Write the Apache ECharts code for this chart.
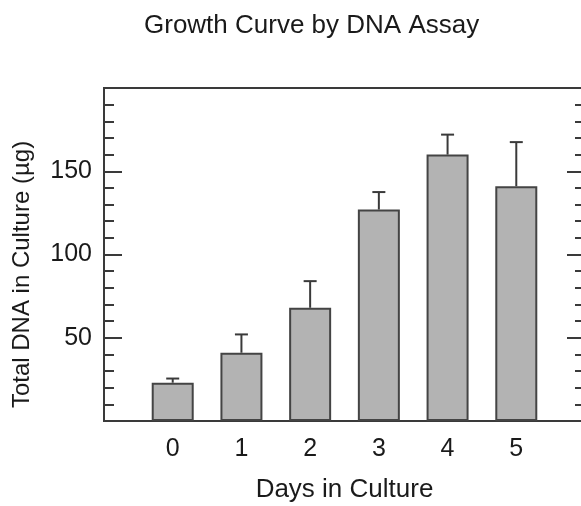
<!DOCTYPE html>
<html>
<head>
<meta charset="utf-8">
<script src="https://cdn.jsdelivr.net/npm/echarts@6/dist/echarts.min.js"></script>
<style>
  html, body { margin: 0; padding: 0; background: #fff; }
  #chart { width: 581px; height: 506px; }
</style>
</head>
<body>
<div id="chart"></div>
<script>
// data
const days = [0, 1, 2, 3, 4, 5];
const dnaMean = [23, 41, 68, 127, 160, 141];
const dnaErr = [2.5, 11, 16, 10.5, 12, 26.5];
const yTicks = [50, 100, 150];

const font = "'Liberation Sans', Arial, Helvetica, sans-serif";
const ink = "#3a3a3a";

const chart = echarts.init(document.getElementById("chart"));

const barData = days.map((d, i) => [d, dnaMean[i]]);
const errData = days.map((d, i) => [d, dnaMean[i], dnaMean[i] + dnaErr[i]]);

// y axis shared bits (left and right copies)
const yBase = {
  type: "value",
  min: 0,
  max: 200,
  interval: 50,
  splitLine: { show: false },
  axisLine: { show: true, onZero: false, lineStyle: { color: ink, width: 2 } },
  axisTick: { show: true, inside: true, length: 18, lineStyle: { color: ink, width: 2 } },
  minorTick: { show: true, splitNumber: 5, length: 10, lineStyle: { color: ink, width: 2 } },
};

const option = {
  animation: false,
  backgroundColor: "#fff",
  title: {
    text: "Growth Curve by DNA Assay",
    left: 139,
    top: 8,
    textStyle: { fontFamily: font, fontSize: 26, fontWeight: "normal", color: "#1a1a1a" },
  },
  grid: {
    left: 104,
    right: -4,
    top: 88,
    bottom: 85,
    show: true,
    borderColor: ink,
    borderWidth: 2,
    outerBoundsMode: "none",
  },
  xAxis: {
    type: "value",
    min: -1,
    max: 6,
    interval: 1,
    name: "Days in Culture",
    nameLocation: "middle",
    nameGap: 56,
    nameTextStyle: { fontFamily: font, fontSize: 26, color: "#1a1a1a" },
    splitLine: { show: false },
    axisLine: { show: true, onZero: false, lineStyle: { color: ink, width: 2 } },
    axisTick: { show: false },
    axisLabel: {
      margin: 16,
      fontFamily: font,
      fontSize: 25,
      color: "#1a1a1a",
      formatter: (v) => (days.indexOf(v) >= 0 ? String(v) : ""),
    },
  },
  yAxis: [
    Object.assign({}, yBase, {
      position: "left",
      name: "Total DNA in Culture (\u00b5g)",
      nameLocation: "middle",
      nameGap: 70,
      nameTextStyle: { fontFamily: font, fontSize: 24, color: "#1a1a1a", padding: [0, 40, 0, 0] },
      axisLabel: {
        margin: 12,
        fontFamily: font,
        fontSize: 25,
        color: "#1a1a1a",
        formatter: (v) => (yTicks.indexOf(v) >= 0 ? String(v) : ""),
      },
    }),
    Object.assign({}, yBase, {
      position: "right",
      axisLabel: { show: false },
    }),
  ],
  series: [
    {
      type: "bar",
      data: barData,
      barWidth: 42,
      itemStyle: { color: "#b3b3b3", borderColor: "#444", borderWidth: 2 },
      z: 2,
    },
    {
      type: "custom",
      data: errData,
      z: 3,
      renderItem: function (params, api) {
        const top = api.coord([api.value(0), api.value(2)]);
        const base = api.coord([api.value(0), api.value(1)]);
        const half = 6.5;
        const style = { stroke: ink, lineWidth: 2 };
        return {
          type: "group",
          children: [
            { type: "line", shape: { x1: base[0], y1: base[1], x2: top[0], y2: top[1] }, style: style },
            { type: "line", shape: { x1: top[0] - half, y1: top[1], x2: top[0] + half, y2: top[1] }, style: style },
          ],
        };
      },
    },
  ],
};

chart.setOption(option);
</script>
</body>
</html>
